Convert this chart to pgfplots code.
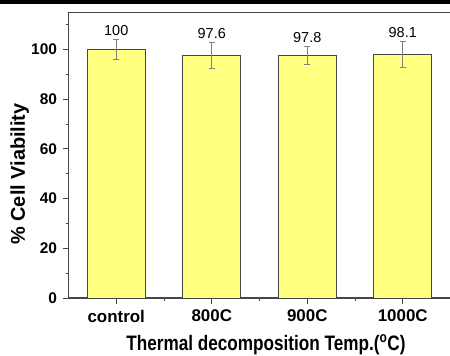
\documentclass[border=0pt]{standalone}
\usepackage{fontspec}
\setmainfont{Liberation Sans}
\newfontfamily\narrowfont[FakeStretch=0.82]{Liberation Sans}
\usepackage{pgfplots}
\usepackage{pgfplotstable}
\pgfplotsset{compat=1.18}
\definecolor{baryellow}{RGB}{255,255,128}
\definecolor{axisgray}{RGB}{70,70,70}
\pgfplotstableread{
x y err
0 100 4.0
1 97.6 5.1
2 97.8 3.6
3 98.1 5.1
}\viab
\pgfplotstableread{
x y lab
0 104.0 100
1 102.7 97.6
2 101.4 97.8
3 103.2 98.1
}\labs
\begin{document}
\begin{tikzpicture}
\useasboundingbox (0,0) rectangle (450bp,356bp);
\fill[black] (0,351.7bp) rectangle (450bp,356bp);
\begin{axis}[
  at={(68.5bp,58bp)}, anchor=south west,
  scale only axis, width=382bp, height=285.7bp,
  xmin=-0.5, xmax=3.5, ymin=0, ymax=115,
  xtick={0,1,2,3}, xticklabels={control,800C,900C,1000C},
  minor xtick={0.5,1.5,2.5},
  ytick={0,20,...,100}, minor ytick={10,30,...,110},
  tick align=outside, tick pos=left,
  major tick length=5.5bp, minor tick length=3bp,
  axis line style={axisgray, line width=1.1bp},
  every tick/.style={axisgray, line width=1bp},
  /pgf/number format/assume math mode=true,
  yticklabel style={font=\bfseries\fontsize{15.5}{15.5}\selectfont, xshift=-2.5bp},
  xticklabel style={font=\bfseries\fontsize{17}{17}\selectfont, yshift=-3bp},
  xlabel={\narrowfont\bfseries Thermal decomposition Temp.(\textsuperscript{o}C)},
  xlabel style={at={(rel axis cs:0.517,-0.182)}, anchor=base, font=\fontsize{21}{21}\selectfont},
  ylabel={\% Cell Viability},
  ylabel style={at={(rel axis cs:-0.1139,0.434)}, anchor=base, rotate=0, font=\bfseries\fontsize{20}{20}\selectfont},
]
\addplot[ybar, bar width=58bp, fill=baryellow, draw=axisgray, line width=0.8bp,
  error bars/.cd, y dir=both, y explicit,
  error bar style={gray, line width=0.8bp},
  error mark options={rotate=90, gray, mark size=3bp, line width=0.8bp}]
  table[x=x, y=y, y error=err] {\viab};
\addplot[draw=none, mark=none, nodes near coords, point meta=explicit symbolic,
  nodes near coords style={anchor=base, yshift=4bp, inner sep=0pt, font=\fontsize{14.5}{14.5}\selectfont, text=black}]
  table[x=x, y=y, meta=lab] {\labs};
\end{axis}
\end{tikzpicture}
\end{document}
